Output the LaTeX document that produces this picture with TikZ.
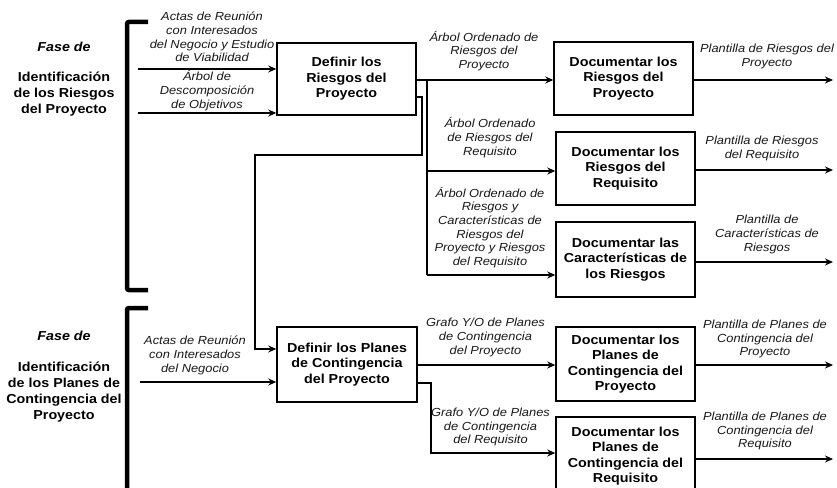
\documentclass[tikz,border=0pt]{standalone}
\usepackage{fontspec}
\setmainfont{Liberation Sans}[FakeStretch=1.1]
\usetikzlibrary{arrows.meta}
\tikzset{
  box/.style={draw, line width=1.5pt, minimum width=139pt, align=center, inner sep=0pt,
    font=\bfseries\fontsize{13}{15.5}\selectfont},
  lab/.style={align=center, inner sep=0pt, text=black!90,
    font=\itshape\fontsize{11.7}{13.7}\selectfont},
  phase/.style={align=center, inner sep=0pt,
    font=\bfseries\fontsize{13}{16}\selectfont},
  arr/.style={-{Stealth[length=8pt,width=7pt]}, line width=1.4pt},
  ln/.style={line width=1.4pt},
  brk/.style={line width=4.5pt, rounded corners=2pt}
}
\begin{document}
\begin{tikzpicture}[x=1pt,y=-1pt]
\useasboundingbox (0,0) rectangle (837,487);
\clip (0,0) rectangle (837,487);
\fill[white] (0,0) rectangle (837,487);

% brackets
\draw[brk] (148,22) -- (127,22) -- (127,290) -- (148,290);
\draw[brk] (148,308) -- (127,308) -- (127,500);

% phase labels
\node[phase] (f1) at (64,47) {\itshape Fase de};
\node[phase] (p1) at (64,94) {Identificación\\de los Riesgos\\del Proyecto};
\node[phase] (f2) at (64,336) {\itshape Fase de};
\node[phase] (p2) at (64,392.5) {Identificación\\de los Planes de\\Contingencia del\\Proyecto};

% boxes
\node[box, minimum height=72pt] (b1) at (346.5,79) {Definir los\\Riesgos del\\Proyecto};
\node[box, minimum height=73pt] (d1) at (623.5,78.5) {Documentar los\\Riesgos del\\Proyecto};
\node[box, minimum height=73pt] (d2) at (625.5,168.5) {Documentar los\\Riesgos del\\Requisito};
\node[box, minimum height=75pt] (d3) at (625.5,259.5) {Documentar las\\Características de\\los Riesgos};
\node[box, minimum height=75pt, minimum width=140pt] (b2) at (347,364.5) {Definir los Planes\\de Contingencia\\del Proyecto};
\node[box, minimum height=74pt] (d4) at (625.5,364) {Documentar los\\Planes de\\Contingencia del\\Proyecto};
\node[box, minimum height=78pt] (d5) at (625.5,456) {Documentar los\\Planes de\\Contingencia del\\Requisito};

% coordinates
\coordinate (i1) at (138,69);
\coordinate (i2) at (138,113);
\coordinate (i3) at (140,382);
\coordinate (j1) at (427,80);
\coordinate (j2) at (427,171);
\coordinate (j3) at (427,275);
\coordinate (l1) at (422,97);
\coordinate (l2) at (255,155);
\coordinate (l3) at (255,349);
\coordinate (k1) at (431,383);
\coordinate (k2) at (431,453);
\coordinate (o1) at (833,80);
\coordinate (o2) at (833,170);
\coordinate (o3) at (833,262);
\coordinate (o4) at (833,365);
\coordinate (o5) at (833,459);

% inputs to b1
\draw[arr] (i1) -- (i1 -| b1.west);
\draw[arr] (i2) -- (i2 -| b1.west);
% b1 outputs
\draw[arr] (b1.east |- j1) -- (j1 -| d1.west);
\draw[ln] (j1) -- (j3);
\draw[arr] (j2) -- (j2 -| d2.west);
\draw[arr] (j3) -- (j3 -| d3.west);
% loop from b1 to b2
\draw[arr] (b1.east |- l1) -- (l1) |- (l2) -- (l3) -- (l3 -| b2.west);
% input to b2
\draw[arr] (i3) -- (i3 -| b2.west);
% b2 outputs
\draw[arr] (b2.east |- o4) -- (o4 -| d4.west);
\draw[arr] (b2.east |- k1) -- (k1) -- (k2) -- (k2 -| d5.west);
% final outputs
\draw[arr] (d1.east |- o1) -- (o1);
\draw[arr] (d2.east |- o2) -- (o2);
\draw[arr] (d3.east |- o3) -- (o3);
\draw[arr] (d4.east |- o4) -- (o4);
\draw[arr] (d5.east |- o5) -- (o5);

% labels
\node[lab] (t1) at (212,37) {Actas de Reunión\\con Interesados\\del Negocio y Estudio\\de Viabilidad};
\node[lab] (t2) at (207,90.5) {Árbol de\\Descomposición\\de Objetivos};
\node[lab] (t3) at (484,51) {Árbol Ordenado de\\Riesgos del\\Proyecto};
\node[lab] (t4) at (490,137.5) {Árbol Ordenado\\de Riesgos del\\Requisito};
\node[lab] (t5) at (490,227.5) {Árbol Ordenado de\\Riesgos y\\Características de\\Riesgos del\\Proyecto y Riesgos\\del Requisito};
\node[lab] (t6) at (767,56.5) {Plantilla de Riesgos del\\Proyecto};
\node[lab] (t7) at (762,148.5) {Plantilla de Riesgos\\del Requisito};
\node[lab] (t8) at (767,234.5) {Plantilla de\\Características de\\Riesgos};
\node[lab] (t9) at (195,355.5) {Actas de Reunión\\con Interesados\\del Negocio};
\node[lab] (t10) at (485.5,337.5) {Grafo Y/O de Planes\\de Contingencia\\del Proyecto};
\node[lab] (t11) at (490.5,427) {Grafo Y/O de Planes\\de Contingencia\\del Requisito};
\node[lab] (t12) at (765,339) {Plantilla de Planes de\\Contingencia del\\Proyecto};
\node[lab] (t13) at (765,431) {Plantilla de Planes de\\Contingencia del\\Requisito};
\end{tikzpicture}
\end{document}
